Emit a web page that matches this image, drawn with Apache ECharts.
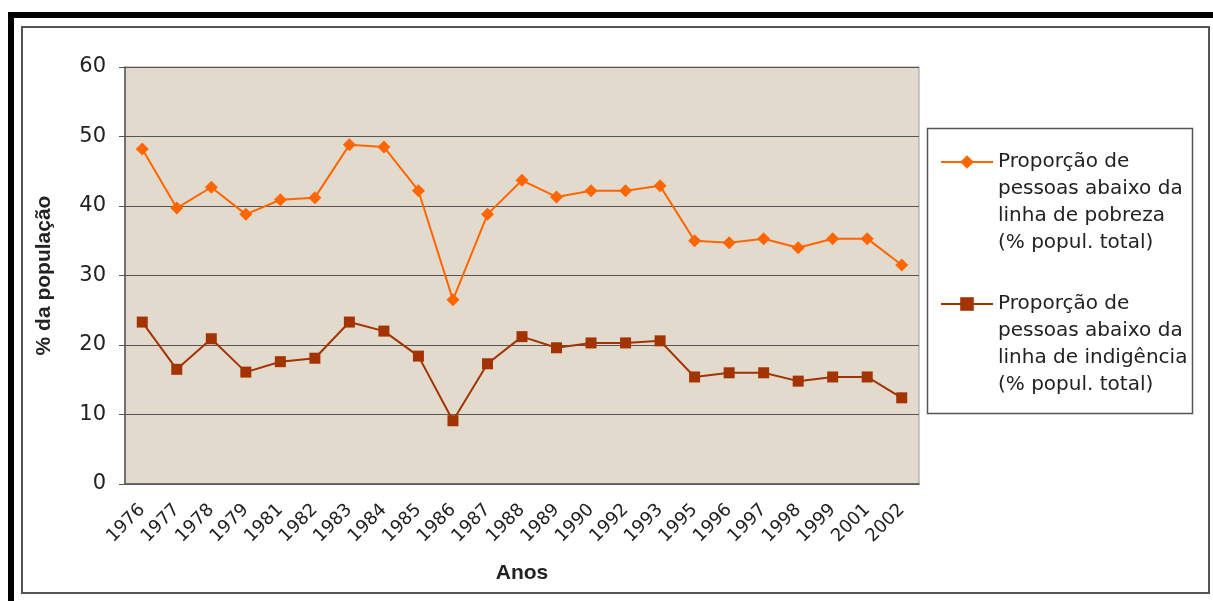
<!DOCTYPE html>
<html><head><meta charset="utf-8">
<script src="https://cdn.jsdelivr.net/npm/echarts@6/dist/echarts.min.js"></script>
<style>html,body{margin:0;padding:0;background:#fff}#c{width:1213px;height:601px}</style>
</head><body><div id="c"></div>
<script>
const years = ['1976','1977','1978','1979','1981','1982','1983','1984','1985','1986','1987','1988','1989','1990','1992','1993','1995','1996','1997','1998','1999','2001','2002'];
const pobreza = [48.2,39.7,42.7,38.8,40.9,41.2,48.8,48.5,42.2,26.5,38.8,43.7,41.3,42.2,42.2,42.9,35.0,34.7,35.3,34.0,35.3,35.3,31.5];
const indigencia = [23.3,16.5,20.9,16.1,17.6,18.1,23.3,22.0,18.4,9.1,17.3,21.2,19.6,20.3,20.3,20.6,15.4,16.0,16.0,14.8,15.4,15.4,12.4];
const yTicks = [0,10,20,30,40,50,60];
const nameP = 'Proporção de pessoas abaixo da linha de pobreza (% popul. total)';
const nameI = 'Proporção de pessoas abaixo da linha de indigência (% popul. total)';
const legendLines = {};
legendLines[nameP] = ['Proporção de','pessoas abaixo da','linha de pobreza','(% popul. total)'];
legendLines[nameI] = ['Proporção de','pessoas abaixo da','linha de indigência','(% popul. total)'];
const xTitle = 'Anos';
const yTitle = '% da população';

const chart = echarts.init(document.getElementById('c'), null, {renderer:'canvas'});
const legendFmt = function(n){ return '\n\n\n' + legendLines[n].join('\n'); };
const legendBase = {
  orient:'vertical', left:940, padding:0, itemWidth:52, itemHeight:17, z:10,
  textStyle:{fontFamily:'DejaVu Sans', fontSize:20, lineHeight:27, color:'#222'},
  formatter: legendFmt
};
const option = {
  animation:false,
  backgroundColor:'#fff',
  graphic:[
    {type:'rect', z:0, shape:{x:8,y:12,width:1205,height:6}, style:{fill:'#000'}},
    {type:'rect', z:0, shape:{x:8,y:12,width:6,height:589}, style:{fill:'#000'}},
    {type:'rect', z:0, shape:{x:22,y:27,width:1187,height:566}, style:{fill:'none',stroke:'#555',lineWidth:2}},
    {type:'rect', z:1, shape:{x:927.5,y:128.5,width:265,height:285}, style:{fill:'#fff',stroke:'#555',lineWidth:1.5}}
  ],
  grid:{left:125,right:294,top:67,bottom:117,show:true,backgroundColor:'#e2dacd',borderColor:'#9a9a9a',borderWidth:1},
  xAxis:[
    {type:'category', data:years, boundaryGap:true,
     axisLine:{lineStyle:{color:'#555',width:1.5}},
     axisTick:{inside:true,length:5,interval:0,lineStyle:{color:'#555'}},
     axisLabel:{rotate:45,margin:23,interval:0,fontFamily:'DejaVu Sans',fontSize:18,color:'#222'},
     name:xTitle, nameLocation:'middle', nameGap:79,
     nameTextStyle:{fontFamily:'Liberation Sans',fontWeight:'bold',fontSize:21,color:'#222'}},
    {type:'category', data:years, position:'bottom', boundaryGap:true,
     axisLine:{show:false},
     axisTick:{alignWithLabel:true,length:5,interval:0,lineStyle:{color:'#555'}},
     axisLabel:{show:false}, splitLine:{show:false}}
  ],
  yAxis:{type:'value', min:yTicks[0], max:yTicks[yTicks.length-1], interval:10,
    axisLine:{show:true,lineStyle:{color:'#555',width:1.5}},
    axisTick:{show:true,length:6,lineStyle:{color:'#555'}},
    axisLabel:{margin:19,fontFamily:'DejaVu Sans',fontSize:21,color:'#222'},
    splitLine:{lineStyle:{color:'#555',width:1}},
    name:yTitle, nameLocation:'middle', nameGap:70,
    nameTextStyle:{fontFamily:'Liberation Sans',fontWeight:'bold',fontSize:21,color:'#222'}},
  legend:[
    Object.assign({}, legendBase, {data:[nameP], top:67.5}),
    Object.assign({}, legendBase, {data:[nameI], top:209.5})
  ],
  series:[
    {name:nameP, type:'line', data:pobreza, xAxisIndex:0, symbol:'diamond', symbolSize:13,
     lineStyle:{color:'#ff6600',width:2}, itemStyle:{color:'#ff6600'}},
    {name:nameI, type:'line', data:indigencia, xAxisIndex:0, symbol:'rect', symbolSize:11,
     lineStyle:{color:'#a33300',width:2}, itemStyle:{color:'#a33300'}}
  ]
};
chart.setOption(option);
</script></body></html>
